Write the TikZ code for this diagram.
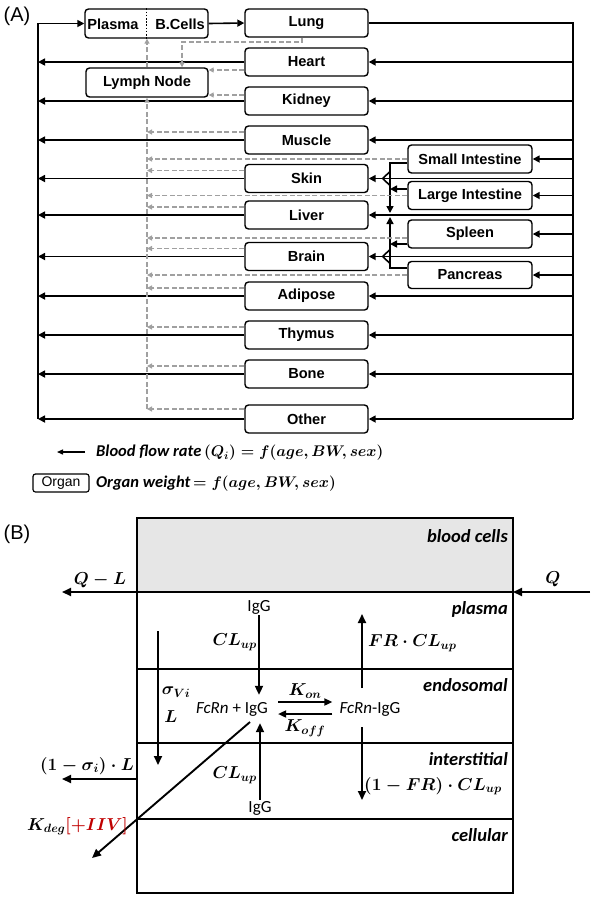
\documentclass[tikz,border=0pt]{standalone}
\usepackage{amsmath}
\usepackage{graphicx}
\usepackage{fontspec}
\setmainfont{Liberation Sans}
\newfontfamily\calfam{Carlito}
\usetikzlibrary{arrows.meta,calc}
\definecolor{lgray}{HTML}{A0A0A0}
\definecolor{bcfill}{HTML}{E6E6E6}
\definecolor{kred}{HTML}{C00000}
\newcommand\fsz[1]{\fontsize{#1}{#1}\selectfont}
\begin{document}
\begin{tikzpicture}[x=1pt,y=-1pt,
 organ/.style={draw, rounded corners=3.5pt, line width=1.4pt, minimum width=123pt, minimum height=28pt, inner sep=0pt, font=\fsz{14.6}\bfseries},
 btxt/.style={inner sep=0pt, font=\fsz{14.6}\bfseries},
 wline/.style={line width=1.6pt},
 flow/.style={line width=1.6pt, -{Triangle[length=7pt,width=7pt]}},
 lymph/.style={color=lgray, line width=1.4pt, dash pattern=on 5pt off 2.5pt, -{Triangle[length=5pt,width=5pt]}},
 comp/.style={draw, line width=1.7pt, minimum width=376pt, inner sep=0pt, outer sep=0pt},
 complab/.style={anchor=east, inner sep=0pt, font=\calfam\bfseries\itshape\fsz{18.5}},
 barrow/.style={line width=1.9pt, -{Triangle[length=9pt,width=8pt]}},
 karrow/.style={line width=1.7pt, -{Triangle[length=8pt,width=7pt]}},
 mlab/.style={font=\fsz{16.5}\boldmath, inner sep=1pt},
 ctext/.style={font=\calfam\fsz{17}, inner sep=1pt},
]
\useasboundingbox (0,0) rectangle (593,898);

% ---------------- Panel A ----------------
\node[font=\fsz{20}] (labA) at (17,16) {(A)};

\coordinate (L) at (38,0);
\coordinate (R) at (573,0);
\coordinate (G) at (147,0);
\coordinate (P) at (390,0);

\node[organ] (lung) at (306.5,23) {Lung};
\node[organ] (heart) at (306.5,62) {Heart};
\node[organ] (kidney) at (306.5,101) {Kidney};
\node[organ] (muscle) at (306.5,140) {Muscle};
\node[organ] (skin) at (306.5,178.5) {Skin};
\node[organ] (liver) at (306.5,215) {Liver};
\node[organ] (brain) at (306.5,256.5) {Brain};
\node[organ] (adipose) at (306.5,296) {Adipose};
\node[organ] (thymus) at (306.5,335) {Thymus};
\node[organ] (bone) at (306.5,374) {Bone};
\node[organ] (other) at (306.5,419) {Other};
\node[organ, minimum width=124pt] (si) at (470,159) {Small Intestine};
\node[organ, minimum width=124pt] (li) at (470,195.5) {Large Intestine};
\node[organ, minimum width=124pt] (spleen) at (470,234) {Spleen};
\node[organ, minimum width=124pt, minimum height=27pt] (pancreas) at (470,275) {Pancreas};
\node[organ, minimum height=29pt] (plasma) at (146.5,23.5) {};
\node[btxt] (plasmatxt) at (113,24) {Plasma};
\node[btxt] (bcells) at (180,24) {B.Cells};
\node[organ, minimum width=122pt, minimum height=29pt] (ln) at (147,82.5) {Lymph Node};

\draw[line width=1.7pt, dash pattern=on 1.6pt off 1.6pt] (plasma.north) -- (plasma.south);

% blood circulation
\draw[flow] (other.west -| L) |- (plasma.west);
\draw[flow] (plasma.east) -- (lung.west);
\draw[wline] (lung.east) -| (other.east -| R);
\foreach \o in {heart,kidney,muscle,skin,liver,brain,adipose,thymus,bone,other,si,li,spleen,pancreas}
  \draw[flow] (\o.east -| R) -- (\o.east);
\foreach \o in {heart,kidney,muscle,skin,liver,brain,adipose,thymus,bone,other}
  \draw[flow] (\o.west) -- (\o.west -| L);

% portal
\draw[flow] ([yshift=-4pt]si.west) -| ([yshift=2pt]liver.east -| P);
\draw[flow] ([yshift=6.5pt]li.west) -- ([yshift=6.5pt]li.west -| P);
\draw[flow] ([yshift=-10pt]spleen.west) -- ([yshift=-10pt]spleen.west -| P);
\draw[flow] ([yshift=7pt]pancreas.west) -| ([yshift=-2pt]liver.east -| P);
\draw[wline] ([yshift=7pt]skin.east -| P) -- ([xshift=14pt]skin.east) -- ([yshift=-7pt]skin.east -| P);
\draw[wline] ([yshift=7pt]brain.east -| P) -- ([xshift=14pt]brain.east) -- ([yshift=-7pt]brain.east -| P);

% lymph
\coordinate (lungL) at (302,42);
\coordinate (lnin) at (182,0);
\draw[lymph] (lung.south -| lungL) |- (lnin |- lungL) -- (lnin |- ln.north);
\draw[lymph] ([yshift=-8pt]heart.west) -- ([yshift=-8pt]heart.west -| ln.east);
\draw[lymph] ([yshift=6pt]kidney.west) -- ([yshift=6pt]kidney.west -| ln.east);
\foreach \o in {muscle,skin,liver,brain,adipose,thymus,bone}
  \draw[lymph] ([yshift=8pt]\o.west) -- ([yshift=8pt]\o.west -| G);
\draw[lymph] ([yshift=10pt]other.west) -- ([yshift=10pt]other.west -| G);
\draw[lymph] (si.west) -- (si.west -| G);
\draw[lymph] (li.west) -- (li.west -| G);
\draw[lymph] ([yshift=-4pt]spleen.west) -- ([yshift=-4pt]spleen.west -| G);
\draw[lymph] (pancreas.west) -- (pancreas.west -| G);
\draw[lymph] ([yshift=10pt]other.west -| G) -- (ln.south);
\draw[lymph] (ln.north) -- (ln.north |- plasma.south);

% legend
\coordinate (legA) at (85,452);
\coordinate (legB) at (57,452);
\draw[line width=1.3pt, -{Triangle[length=6pt,width=5pt]}] (legA) -- (legB);
\node[anchor=west, inner sep=0pt] (legflow) at (96,453) {{\calfam\bfseries\itshape\fsz{16.5}Blood flow rate} \scalebox{1.07}{\fsz{14.4}\boldmath$(Q_i)=f(age,BW,sex)$}};
\node[draw, rounded corners=2.5pt, line width=1.2pt, minimum width=56pt, minimum height=18pt, inner sep=0pt, font=\fsz{14}] (legorg) at (61,483) {Organ};
\node[anchor=west, inner sep=0pt] (legwt) at (96,484) {{\calfam\bfseries\itshape\fsz{16.5}Organ weight} \scalebox{1.07}{\fsz{14.4}\boldmath$=f(age,BW,sex)$}};

% ---------------- Panel B ----------------
\node[font=\fsz{20}] (labB) at (17,534) {(B)};
\node[comp, fill=bcfill, minimum height=74pt] (bc) at (325,555) {};
\node[comp, minimum height=77pt] (pl) at (325,630.5) {};
\node[comp, minimum height=74pt] (en) at (325,706) {};
\node[comp, minimum height=76pt] (intr) at (325,781) {};
\node[comp, minimum height=74pt] (ce) at (325,856) {};

\node[complab] (bclab) at ([xshift=-5pt,yshift=-18pt]bc.north east) {blood cells};
\node[complab] (pllab) at ([xshift=-5pt,yshift=-17pt]pl.north east) {plasma};
\node[complab] (enlab) at ([xshift=-5pt,yshift=-16pt]en.north east) {endosomal};
\node[complab] (inlab) at ([xshift=-5pt,yshift=-16pt]intr.north east) {interstitial};
\node[complab] (celab) at ([xshift=-5pt,yshift=-16pt]ce.north east) {cellular};

\coordinate (qlend) at (62,592);
\draw[barrow] (pl.north west) -- (qlend);
\node[mlab] (qllab) at (100,580) {$Q-L$};
\coordinate (qstart) at (590,592);
\draw[barrow] (qstart) -- (pl.north east);
\node[mlab] (qlab) at (553,579) {$Q$};

\node[ctext] (igg1) at (259,607) {IgG};
\node[ctext] (fcrn) at (232,709) {{\itshape FcRn} + IgG};
\node[ctext] (fcrnigg) at (370,709) {{\itshape FcRn}-IgG};
\node[ctext] (igg2) at (260,808) {IgG};

\draw[barrow] (igg1.south) -- ([yshift=6pt]igg1.south |- fcrn.north);
\draw[barrow] (igg2.north) -- ([yshift=-6pt]igg2.north |- fcrn.south);
\node[mlab, anchor=east] (clup1) at (258,642) {$CL_{up}$};
\node[mlab, anchor=east] (clup2) at (258,775) {$CL_{up}$};

\draw[karrow] ([xshift=9pt,yshift=7pt]fcrn.east) -- ([xshift=-6pt,yshift=7pt]fcrnigg.west);
\draw[karrow] ([xshift=-6pt,yshift=-5pt]fcrnigg.west) -- ([xshift=9pt,yshift=-5pt]fcrn.east);
\node[mlab] (konlab) at (305,691) {$K_{on}$};
\node[mlab] (kofflab) at (305,728) {$K_{off}$};

\coordinate (fr0) at (362,688);
\coordinate (fr1) at (362,614);
\draw[barrow] (fr0) -- (fr1);
\node[mlab, anchor=west] (frlab) at (367,643) {$FR\cdot CL_{up}$};
\coordinate (nf0) at (362,727);
\coordinate (nf1) at (362,800);
\draw[barrow] (nf0) -- (nf1);
\node[mlab, anchor=west] (frlab2) at (363,786) {$(1-FR)\cdot CL_{up}$};

\coordinate (sg0) at (158,631);
\coordinate (sg1) at (158,765);
\draw[barrow] (sg0) -- (sg1);
\node[mlab] (siglab) at (176,692) {$\sigma_{Vi}$};
\node[mlab] (llab) at (171,717) {$L$};

\coordinate (lyend) at (62,779);
\draw[barrow] ([yshift=-36pt]intr.north west) -- (lyend);
\node[mlab] (sigL) at (87,766) {$(1-\sigma_i)\cdot L$};

\coordinate (kd0) at (250,722);
\coordinate (kd1) at (92,858);
\draw[barrow] (kd0) -- (kd1);
\node[mlab, anchor=west] (kdeg) at (26,826) {$K_{deg}$\textcolor{kred}{$[+IIV]$}};

\end{tikzpicture}
\end{document}
